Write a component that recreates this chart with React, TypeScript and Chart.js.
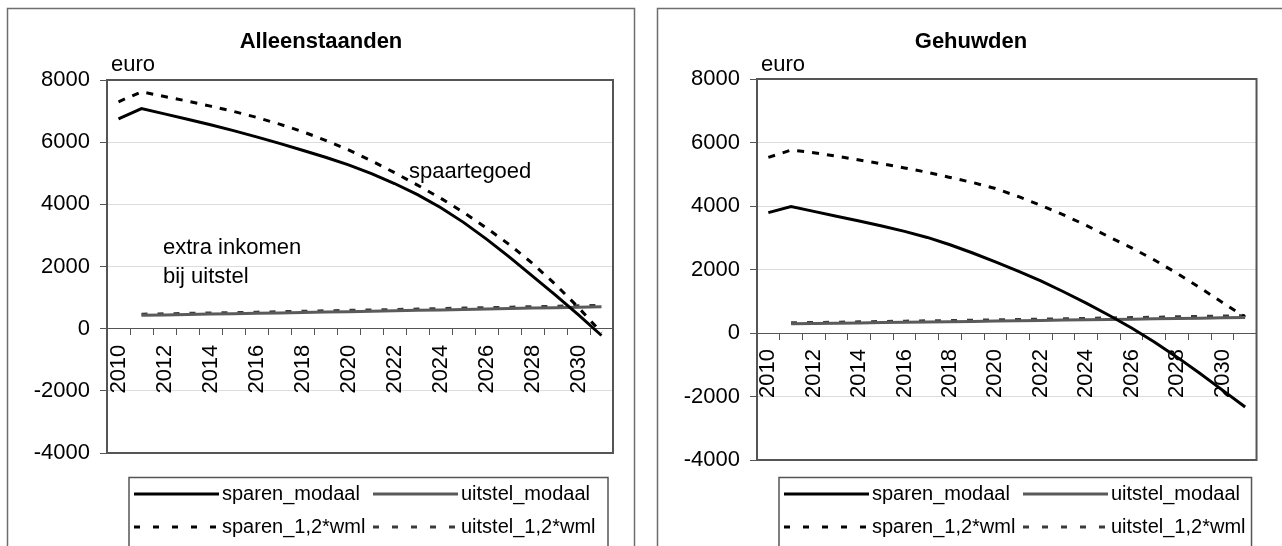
import React, { useEffect, useRef } from 'react';
import { Chart, registerables } from 'chart.js';

Chart.register(...registerables);

const FONT = '"Liberation Sans", Arial, sans-serif';

const years = ['2010', '2011', '2012', '2013', '2014', '2015', '2016', '2017', '2018', '2019', '2020',
  '2021', '2022', '2023', '2024', '2025', '2026', '2027', '2028', '2029', '2030', '2031'];
const yMin = -4000;
const yMax = 8000;
const yStep = 2000;

const seriesNames = ['sparen_modaal', 'uitstel_modaal', 'sparen_1,2*wml', 'uitstel_1,2*wml'];

// Alleenstaanden
const alleenSparenModaal = [6750, 7080, 6910, 6740, 6560, 6370, 6170, 5960, 5740, 5515, 5270,
  4990, 4670, 4310, 3900, 3420, 2880, 2300, 1690, 1080, 440, -220];
const alleenUitstelModaal = [null, 430, 442, 455, 468, 481, 494, 507, 520, 534, 548,
  562, 576, 590, 604, 618, 632, 647, 661, 676, 690, 705];
const alleenSparenWml = [7300, 7620, 7470, 7320, 7160, 6990, 6800, 6580, 6340, 6060, 5750,
  5400, 5020, 4620, 4200, 3740, 3240, 2700, 2100, 1420, 680, -130];
const alleenUitstelWml = [null, 465, 478, 491, 505, 518, 532, 546, 560, 574, 588,
  602, 617, 631, 646, 661, 676, 691, 706, 721, 737, 752];

// Gehuwden
const gehuwdSparenModaal = [3790, 3980, 3830, 3680, 3530, 3370, 3200, 3010, 2780, 2520, 2240,
  1950, 1640, 1300, 940, 560, 160, -280, -760, -1270, -1800, -2330];
const gehuwdUitstelModaal = [null, 290, 299, 308, 318, 327, 337, 346, 356, 366, 376,
  386, 396, 406, 416, 426, 437, 447, 457, 468, 479, 490];
const gehuwdSparenWml = [5530, 5760, 5680, 5570, 5450, 5330, 5200, 5060, 4900, 4740, 4550,
  4300, 4020, 3720, 3390, 3030, 2680, 2300, 1880, 1430, 960, 500];
const gehuwdUitstelWml = [null, 320, 330, 340, 351, 361, 372, 383, 394, 405, 416,
  427, 438, 450, 461, 473, 485, 497, 509, 521, 533, 545];

type Note = { text: string; x: number; y: number };

type PanelCfg = {
  title: string;
  titleX: number;
  boxX: number;
  boxW: number;
  width: number;
  padTop: number;
  padBottom: number;
  padRight: number;
  yAxisWidth: number;
  notes: Note[];
  series: (number | null)[][];
};

const styles = [
  { color: '#000000', dash: [] as number[], legendDash: [] as number[] },
  { color: '#5a5a5a', dash: [] as number[], legendDash: [] as number[] },
  { color: '#000000', dash: [7, 8], legendDash: [6, 13] },
  { color: '#3a3a3a', dash: [6, 10], legendDash: [6, 13] },
];

function makePlugin(cfg: PanelCfg) {
  return {
    id: 'decor',
    beforeDraw(chart: any) {
      const ctx = chart.ctx;
      ctx.save();
      ctx.fillStyle = '#ffffff';
      ctx.fillRect(0, 0, chart.width, chart.height);
      ctx.restore();
    },
    afterDraw(chart: any) {
      const ctx = chart.ctx as CanvasRenderingContext2D;
      const ca = chart.chartArea;
      ctx.save();
      // plot border
      ctx.strokeStyle = '#555555';
      ctx.lineWidth = 2;
      ctx.setLineDash([]);
      ctx.strokeRect(ca.left, ca.top, ca.right - ca.left, ca.bottom - ca.top);
      // outer box
      ctx.strokeStyle = '#6e6e6e';
      ctx.lineWidth = 1.5;
      ctx.strokeRect(cfg.boxX + 0.5, 8.5, cfg.boxW, 700);
      // title
      ctx.fillStyle = '#000';
      ctx.textBaseline = 'alphabetic';
      ctx.textAlign = 'center';
      ctx.font = 'bold 22px ' + FONT;
      ctx.fillText(cfg.title, cfg.titleX, 48);
      // unit
      ctx.textAlign = 'left';
      ctx.font = '22px ' + FONT;
      ctx.fillText('euro', ca.left + 4, 71);
      cfg.notes.forEach((n) => ctx.fillText(n.text, n.x, n.y));
      // legend
      const bx = ca.left + 22;
      const bw = ca.right - 5 - bx;
      ctx.strokeStyle = '#555555';
      ctx.lineWidth = 1.5;
      ctx.strokeRect(bx, 477.5, bw, 200);
      ctx.font = '20px ' + FONT;
      ctx.textBaseline = 'middle';
      chart.data.datasets.forEach((ds: any, i: number) => {
        const col = i % 2;
        const row = Math.floor(i / 2);
        const x0 = bx + 5 + col * 239;
        const y = 494 + row * 33;
        ctx.strokeStyle = ds.borderColor;
        ctx.lineWidth = 3;
        ctx.setLineDash(styles[i].legendDash);
        ctx.beginPath();
        ctx.moveTo(x0, y);
        ctx.lineTo(x0 + 85, y);
        ctx.stroke();
        ctx.setLineDash([]);
        ctx.fillStyle = '#000';
        ctx.fillText(ds.label, x0 + 88, y);
      });
      ctx.restore();
    },
  };
}

function Panel({ cfg, left }: { cfg: PanelCfg; left: number }) {
  const ref = useRef<HTMLCanvasElement | null>(null);
  useEffect(() => {
    if (!ref.current) return;
    const chart = new Chart(ref.current, {
      type: 'line',
      data: {
        labels: years,
        datasets: cfg.series.map((d, i) => ({
          label: seriesNames[i],
          data: d,
          borderColor: styles[i].color,
          backgroundColor: styles[i].color,
          borderWidth: 3,
          borderDash: styles[i].dash,
          pointRadius: 0,
          tension: 0,
          fill: false,
        })),
      },
      options: {
        animation: false,
        responsive: false,
        maintainAspectRatio: false,
        events: [],
        layout: { padding: { left: 0, top: cfg.padTop, right: cfg.padRight, bottom: cfg.padBottom } },
        plugins: { legend: { display: false }, tooltip: { enabled: false }, title: { display: false } },
        scales: {
          x: {
            type: 'category',
            position: { y: 0 } as any,
            offset: true,
            grid: { offset: true, drawOnChartArea: false, tickLength: 6, color: '#555555', tickColor: '#555555' },
            border: { display: true, color: '#555555', width: 1 },
            ticks: {
              autoSkip: false,
              maxRotation: 90,
              minRotation: 90,
              padding: 10,
              color: '#000',
              font: { family: FONT, size: 22 },
              callback: (_v: any, i: number) => (i % 2 === 0 ? years[i] : ''),
            },
            afterFit: (s: any) => { s.height = 0; },
          },
          y: {
            min: yMin,
            max: yMax,
            ticks: {
              stepSize: yStep,
              color: '#000',
              padding: 10,
              font: { family: FONT, size: 22 },
              callback: (v: any) => String(v),
            },
            grid: { color: '#dcdcdc', lineWidth: 1, tickLength: 7, tickColor: '#555555' },
            border: { display: true, color: '#555555', width: 2 },
            afterFit: (s: any) => { s.width = cfg.yAxisWidth; },
          },
        },
      },
      plugins: [makePlugin(cfg)],
    });
    return () => chart.destroy();
  }, [cfg]);
  return (
    <canvas
      ref={ref}
      width={cfg.width}
      height={546}
      style={{ position: 'absolute', left, top: 0, width: cfg.width, height: 546 }}
    />
  );
}

const leftCfg: PanelCfg = {
  title: 'Alleenstaanden',
  titleX: 321,
  boxX: 7,
  boxW: 627,
  width: 645,
  padTop: 80,
  padBottom: 93,
  padRight: 32,
  yAxisWidth: 107,
  notes: [
    { text: 'spaartegoed', x: 409, y: 178 },
    { text: 'extra inkomen', x: 163, y: 254 },
    { text: 'bij uitstel', x: 163, y: 283 },
  ],
  series: [alleenSparenModaal, alleenUitstelModaal, alleenSparenWml, alleenUitstelWml],
};

const rightCfg: PanelCfg = {
  title: 'Gehuwden',
  titleX: 326,
  boxX: 12,
  boxW: 640,
  width: 637,
  padTop: 79,
  padBottom: 86,
  padRight: 19,
  yAxisWidth: 112,
  notes: [],
  series: [gehuwdSparenModaal, gehuwdUitstelModaal, gehuwdSparenWml, gehuwdUitstelWml],
};

export default function App() {
  return (
    <div style={{ position: 'fixed', left: 0, top: 0, width: 1282, height: 546, background: '#fff', overflow: 'hidden' }}>
      <Panel cfg={leftCfg} left={0} />
      <Panel cfg={rightCfg} left={645} />
    </div>
  );
}
